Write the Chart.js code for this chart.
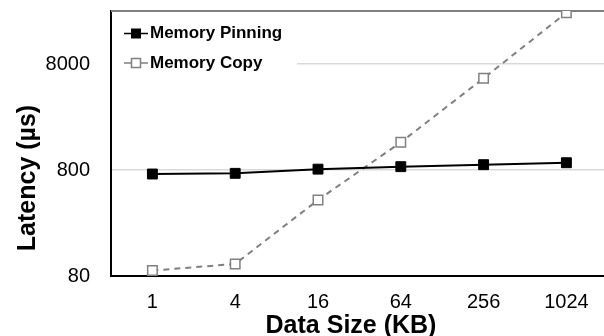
<!DOCTYPE html>
<html>
<head>
<meta charset="utf-8">
<script src="https://cdn.jsdelivr.net/npm/chart.js@4"></script>
<style>
    html, body { margin: 0; padding: 0; background: #fff; overflow: hidden; }
    #wrap { width: 616px; height: 336px; position: relative; }
</style>
</head>
<body>
<div id="wrap"><canvas id="chart-latencia"></canvas></div>
<script>
// dados
const tamanhos = ['1', '4', '16', '64', '256', '1024'];
const memoryPinning = [733, 744, 815, 860, 898, 937];
const memoryCopy = [90, 104, 417, 1460, 5865, 24400];
const yTicks = [80, 800, 8000];
const yMin = 80;
const yMax = 25300;

const FONTE = '"Liberation Sans", Arial, sans-serif';

// legenda dentro da area do grafico + moldura superior
const legendaInterna = {
    id: 'legendaInterna',
    beforeDatasetsDraw(chart) {
        const ctx = chart.ctx, a = chart.chartArea;
        ctx.save();
        ctx.strokeStyle = '#808080';
        ctx.lineWidth = 2;
        ctx.beginPath();
        ctx.moveTo(a.left, a.top);
        ctx.lineTo(a.right, a.top);
        ctx.stroke();
        // fundo branco da legenda cobre a grade
        ctx.fillStyle = '#fff';
        ctx.fillRect(a.left + 1, a.top + 4, 185, 70);
        ctx.restore();
    },
    afterDatasetsDraw(chart) {
        const ctx = chart.ctx, a = chart.chartArea;
        const linhas = [a.top + 22.5, a.top + 52];
        ctx.save();
        chart.data.datasets.forEach((ds, i) => {
            const y = linhas[i];
            const x0 = a.left + 13, x1 = a.left + 37, xm = (x0 + x1) / 2;
            ctx.strokeStyle = ds.borderColor;
            ctx.lineWidth = 1.5;
            ctx.setLineDash([]);
            ctx.beginPath();
            ctx.moveTo(x0, y);
            ctx.lineTo(x1, y);
            ctx.stroke();
            ctx.fillStyle = ds.pointBackgroundColor;
            ctx.strokeStyle = ds.pointBorderColor;
            ctx.lineWidth = ds.pointBorderWidth;
            ctx.fillRect(xm - 4.5, y - 4.5, 9, 9);
            ctx.strokeRect(xm - 4.5, y - 4.5, 9, 9);
            ctx.fillStyle = '#000';
            ctx.font = 'bold 17px ' + FONTE;
            ctx.textAlign = 'left';
            ctx.textBaseline = 'middle';
            ctx.fillText(ds.label, a.left + 39, y);
        });
        ctx.restore();
    }
};

// titulos dos eixos
const titulosEixos = {
    id: 'titulosEixos',
    afterDraw(chart) {
        const ctx = chart.ctx;
        ctx.save();
        ctx.fillStyle = '#000';
        ctx.font = 'bold 25px ' + FONTE;
        ctx.textAlign = 'center';
        ctx.textBaseline = 'alphabetic';
        ctx.fillText('Data Size (KB)', 351, 333);
        ctx.translate(35, 178);
        ctx.rotate(-Math.PI / 2);
        ctx.fillText('Latency (µs)', 0, 0);
        ctx.restore();
    }
};

const ctx = document.getElementById('chart-latencia').getContext('2d');
new Chart(ctx, {
    type: 'line',
    data: {
        labels: tamanhos,
        datasets: [
            {
                label: 'Memory Pinning',
                data: memoryPinning,
                borderColor: '#000',
                borderWidth: 2,
                pointStyle: 'rect',
                pointRadius: 7,
                pointBackgroundColor: '#000',
                pointBorderColor: '#000',
                pointBorderWidth: 1,
                tension: 0
            },
            {
                label: 'Memory Copy',
                data: memoryCopy,
                borderColor: '#808080',
                borderWidth: 2,
                borderDash: [6, 5],
                pointStyle: 'rect',
                pointRadius: 6.7,
                pointBackgroundColor: '#fff',
                pointBorderColor: '#808080',
                pointBorderWidth: 1.5,
                tension: 0
            }
        ]
    },
    options: {
        responsive: true,
        maintainAspectRatio: false,
        animation: false,
        layout: { padding: { top: 11, right: 0, left: 0, bottom: 0 } },
        plugins: {
            legend: { display: false },
            tooltip: { enabled: false }
        },
        scales: {
            x: {
                offset: true,
                grid: { display: false, drawTicks: false },
                border: { color: '#000', width: 2 },
                ticks: {
                    color: '#000',
                    padding: 14,
                    maxRotation: 0,
                    font: { family: FONTE, size: 20 }
                },
                afterFit: (scale) => {
                    scale.height = 60;
                    scale.paddingLeft = 0;
                    scale.paddingRight = 0;
                }
            },
            y: {
                type: 'logarithmic',
                min: yMin,
                max: yMax,
                afterBuildTicks: (scale) => {
                    scale.ticks = yTicks.map(v => ({ value: v }));
                },
                grid: {
                    drawTicks: false,
                    color: (c) => c.tick && c.tick.value === yMin ? 'rgba(0,0,0,0)' : '#d9d9d9',
                    lineWidth: 1.5
                },
                border: { color: '#000', width: 2 },
                ticks: {
                    color: '#000',
                    padding: 21,
                    font: { family: FONTE, size: 20 },
                    callback: (v) => String(v)
                },
                afterFit: (scale) => {
                    scale.width = 111;
                    scale.paddingTop = 0;
                    scale.paddingBottom = 0;
                }
            }
        }
    },
    plugins: [legendaInterna, titulosEixos]
});
</script>
</body>
</html>
